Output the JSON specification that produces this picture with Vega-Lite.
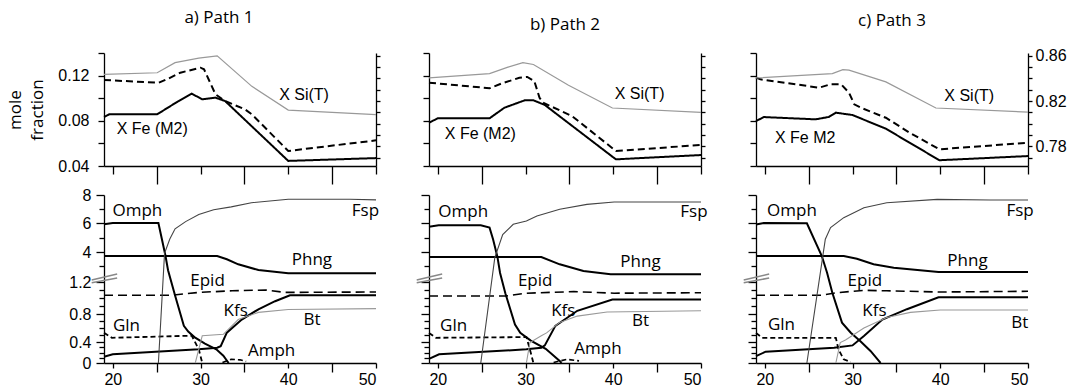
{
"$schema":"https://vega.github.io/schema/vega-lite/v6.json",
"padding":{"left":6,"top":9,"right":5,"bottom":0},
"datasets":{
"top":[
{"p":"a","s":"fe","x":19,"y":0.0834},{"p":"a","s":"fe","x":19.6,"y":0.0857},{"p":"a","s":"fe","x":25.05,"y":0.0857},{"p":"a","s":"fe","x":27.5,"y":0.0975},{"p":"a","s":"fe","x":29,"y":0.104},{"p":"a","s":"fe","x":30.2,"y":0.099},{"p":"a","s":"fe","x":31.7,"y":0.1005},{"p":"a","s":"fe","x":32.8,"y":0.0975},{"p":"a","s":"fe","x":40,"y":0.0445},{"p":"a","s":"fe","x":50,"y":0.047},
{"p":"a","s":"dash","x":19,"y":0.1161},{"p":"a","s":"dash","x":25.25,"y":0.1137},{"p":"a","s":"dash","x":26.4,"y":0.1176},{"p":"a","s":"dash","x":27.7,"y":0.1226},{"p":"a","s":"dash","x":30,"y":0.127},{"p":"a","s":"dash","x":30.4,"y":0.1256},{"p":"a","s":"dash","x":31.7,"y":0.1035},{"p":"a","s":"dash","x":32.8,"y":0.0975},{"p":"a","s":"dash","x":35.1,"y":0.09},{"p":"a","s":"dash","x":35.85,"y":0.0857},{"p":"a","s":"dash","x":40,"y":0.0533},{"p":"a","s":"dash","x":50,"y":0.0627},
{"p":"b","s":"fe","x":19,"y":0.0783},{"p":"b","s":"fe","x":20,"y":0.0822},{"p":"b","s":"fe","x":25.9,"y":0.0822},{"p":"b","s":"fe","x":27.6,"y":0.0916},{"p":"b","s":"fe","x":29.9,"y":0.0981},{"p":"b","s":"fe","x":30.9,"y":0.0981},{"p":"b","s":"fe","x":32.2,"y":0.094},{"p":"b","s":"fe","x":40.3,"y":0.0459},{"p":"b","s":"fe","x":50,"y":0.0497},
{"p":"b","s":"dash","x":19,"y":0.1137},{"p":"b","s":"dash","x":25.9,"y":0.1088},{"p":"b","s":"dash","x":27.2,"y":0.1128},{"p":"b","s":"dash","x":29.3,"y":0.1181},{"p":"b","s":"dash","x":30.2,"y":0.1188},{"p":"b","s":"dash","x":31,"y":0.1152},{"p":"b","s":"dash","x":31.6,"y":0.1004},{"p":"b","s":"dash","x":32,"y":0.096},{"p":"b","s":"dash","x":35.3,"y":0.0842},{"p":"b","s":"dash","x":40.3,"y":0.0533},{"p":"b","s":"dash","x":50,"y":0.0586},
{"p":"c","s":"fe","x":19,"y":0.0798},{"p":"c","s":"fe","x":19.9,"y":0.0833},{"p":"c","s":"fe","x":25.8,"y":0.0813},{"p":"c","s":"fe","x":27.3,"y":0.0834},{"p":"c","s":"fe","x":28.1,"y":0.0872},{"p":"c","s":"fe","x":30,"y":0.0851},{"p":"c","s":"fe","x":33.8,"y":0.073},{"p":"c","s":"fe","x":39.9,"y":0.0451},{"p":"c","s":"fe","x":50,"y":0.0488},
{"p":"c","s":"dash","x":19,"y":0.1182},{"p":"c","s":"dash","x":19.5,"y":0.1167},{"p":"c","s":"dash","x":26.2,"y":0.1093},{"p":"c","s":"dash","x":27.5,"y":0.1123},{"p":"c","s":"dash","x":28.7,"y":0.1123},{"p":"c","s":"dash","x":29.6,"y":0.1049},{"p":"c","s":"dash","x":30.2,"y":0.0946},{"p":"c","s":"dash","x":31.1,"y":0.0911},{"p":"c","s":"dash","x":33.8,"y":0.0827},{"p":"c","s":"dash","x":36.5,"y":0.0695},{"p":"c","s":"dash","x":39.9,"y":0.0548},{"p":"c","s":"dash","x":50,"y":0.0606}
],
"si":[
{"p":"a","x":19,"y":0.8436},{"p":"a","x":25.06,"y":0.845},{"p":"a","x":27.1,"y":0.854},{"p":"a","x":29.8,"y":0.858},{"p":"a","x":31.9,"y":0.86},{"p":"a","x":35.85,"y":0.833},{"p":"a","x":40,"y":0.812},{"p":"a","x":50,"y":0.808},
{"p":"b","x":19,"y":0.8404},{"p":"b","x":25.9,"y":0.8443},{"p":"b","x":28,"y":0.85},{"p":"b","x":29.7,"y":0.854},{"p":"b","x":30.9,"y":0.8523},{"p":"b","x":34.9,"y":0.834},{"p":"b","x":39.9,"y":0.8138},{"p":"b","x":50,"y":0.81},
{"p":"c","x":19,"y":0.8404},{"p":"c","x":27.7,"y":0.8443},{"p":"c","x":28.9,"y":0.8478},{"p":"c","x":29.6,"y":0.8473},{"p":"c","x":33.8,"y":0.8369},{"p":"c","x":39.5,"y":0.8138},{"p":"c","x":50,"y":0.8102}
],
"bot":[
{"p":"a","s":"Omph","x":19,"y":5.91},{"p":"a","s":"Omph","x":20,"y":6.0},{"p":"a","s":"Omph","x":25.2,"y":6.0},{"p":"a","s":"Omph","x":26.0,"y":3.75},{"p":"a","s":"Omph","x":26.3,"y":2.7},{"p":"a","s":"Omph","x":27.1,"y":1.03},{"p":"a","s":"Omph","x":28.1,"y":0.63},{"p":"a","s":"Omph","x":28.6,"y":0.55},{"p":"a","s":"Omph","x":29.3,"y":0.47},{"p":"a","s":"Omph","x":30.5,"y":0.37},{"p":"a","s":"Omph","x":31.8,"y":0.26},{"p":"a","s":"Omph","x":32.6,"y":0.14},{"p":"a","s":"Omph","x":33.2,"y":0.0},
{"p":"a","s":"Phng","x":19,"y":3.71},{"p":"a","s":"Phng","x":31.9,"y":3.71},{"p":"a","s":"Phng","x":33.0,"y":3.48},{"p":"a","s":"Phng","x":34.3,"y":3.12},{"p":"a","s":"Phng","x":36.6,"y":2.71},{"p":"a","s":"Phng","x":40,"y":2.48},{"p":"a","s":"Phng","x":50,"y":2.48},
{"p":"a","s":"Fsp","x":25.2,"y":0},{"p":"a","s":"Fsp","x":25.9,"y":3.9},{"p":"a","s":"Fsp","x":26.5,"y":4.9},{"p":"a","s":"Fsp","x":27.1,"y":5.6},{"p":"a","s":"Fsp","x":28.3,"y":6.1},{"p":"a","s":"Fsp","x":29.8,"y":6.6},{"p":"a","s":"Fsp","x":31.5,"y":6.95},{"p":"a","s":"Fsp","x":33.5,"y":7.15},{"p":"a","s":"Fsp","x":35.8,"y":7.45},{"p":"a","s":"Fsp","x":40,"y":7.7},{"p":"a","s":"Fsp","x":47,"y":7.7},{"p":"a","s":"Fsp","x":50,"y":7.65},
{"p":"a","s":"Epid","x":19,"y":1.034},{"p":"a","s":"Epid","x":26.6,"y":1.034},{"p":"a","s":"Epid","x":29.8,"y":1.07},{"p":"a","s":"Epid","x":33.6,"y":1.09},{"p":"a","s":"Epid","x":37.4,"y":1.1},{"p":"a","s":"Epid","x":39.6,"y":1.07},{"p":"a","s":"Epid","x":50,"y":1.075},
{"p":"a","s":"Kfs","x":19,"y":0.12},{"p":"a","s":"Kfs","x":20,"y":0.165},{"p":"a","s":"Kfs","x":29.8,"y":0.26},{"p":"a","s":"Kfs","x":31.9,"y":0.29},{"p":"a","s":"Kfs","x":32.3,"y":0.32},{"p":"a","s":"Kfs","x":33.0,"y":0.533},{"p":"a","s":"Kfs","x":34.7,"y":0.72},{"p":"a","s":"Kfs","x":36.6,"y":0.859},{"p":"a","s":"Kfs","x":38.5,"y":0.96},{"p":"a","s":"Kfs","x":40.2,"y":1.034},{"p":"a","s":"Kfs","x":50,"y":1.034},
{"p":"a","s":"Bt","x":29.4,"y":0},{"p":"a","s":"Bt","x":30.2,"y":0.49},{"p":"a","s":"Bt","x":32.6,"y":0.51},{"p":"a","s":"Bt","x":34.3,"y":0.72},{"p":"a","s":"Bt","x":36.6,"y":0.82},{"p":"a","s":"Bt","x":40,"y":0.857},{"p":"a","s":"Bt","x":50,"y":0.867},
{"p":"a","s":"Gln","x":19,"y":0.533},{"p":"a","s":"Gln","x":19.9,"y":0.46},{"p":"a","s":"Gln","x":29.0,"y":0.49},{"p":"a","s":"Gln","x":29.8,"y":0.26},{"p":"a","s":"Gln","x":30.2,"y":0.0},
{"p":"a","s":"Amph","x":32.5,"y":0.01},{"p":"a","s":"Amph","x":33.5,"y":0.07},{"p":"a","s":"Amph","x":34.5,"y":0.06},{"p":"a","s":"Amph","x":35.2,"y":0.03},
{"p":"b","s":"Omph","x":19,"y":5.74},{"p":"b","s":"Omph","x":20.1,"y":5.84},{"p":"b","s":"Omph","x":24.9,"y":5.84},{"p":"b","s":"Omph","x":25.9,"y":5.68},{"p":"b","s":"Omph","x":26.3,"y":4.88},{"p":"b","s":"Omph","x":26.8,"y":3.65},{"p":"b","s":"Omph","x":27.1,"y":2.5},{"p":"b","s":"Omph","x":27.7,"y":1.06},{"p":"b","s":"Omph","x":28.8,"y":0.65},{"p":"b","s":"Omph","x":29.4,"y":0.53},{"p":"b","s":"Omph","x":30.6,"y":0.42},{"p":"b","s":"Omph","x":32.3,"y":0.27},{"p":"b","s":"Omph","x":33.9,"y":0.04},{"p":"b","s":"Omph","x":34.1,"y":0},
{"p":"b","s":"Phng","x":19,"y":3.64},{"p":"b","s":"Phng","x":31.8,"y":3.64},{"p":"b","s":"Phng","x":33.9,"y":3.12},{"p":"b","s":"Phng","x":36.6,"y":2.64},{"p":"b","s":"Phng","x":39.7,"y":2.41},{"p":"b","s":"Phng","x":50,"y":2.41},
{"p":"b","s":"Fsp","x":24.9,"y":0},{"p":"b","s":"Fsp","x":26.5,"y":3.6},{"p":"b","s":"Fsp","x":27.4,"y":5.2},{"p":"b","s":"Fsp","x":28.6,"y":5.91},{"p":"b","s":"Fsp","x":30.1,"y":6.14},{"p":"b","s":"Fsp","x":31.3,"y":6.5},{"p":"b","s":"Fsp","x":33.9,"y":6.98},{"p":"b","s":"Fsp","x":37,"y":7.33},{"p":"b","s":"Fsp","x":40.1,"y":7.5},{"p":"b","s":"Fsp","x":50,"y":7.5},
{"p":"b","s":"Epid","x":19,"y":1.025},{"p":"b","s":"Epid","x":27.8,"y":1.025},{"p":"b","s":"Epid","x":30.1,"y":1.06},{"p":"b","s":"Epid","x":35.5,"y":1.08},{"p":"b","s":"Epid","x":40.1,"y":1.06},{"p":"b","s":"Epid","x":50,"y":1.066},
{"p":"b","s":"Kfs","x":19,"y":0.08},{"p":"b","s":"Kfs","x":20.15,"y":0.165},{"p":"b","s":"Kfs","x":30.1,"y":0.26},{"p":"b","s":"Kfs","x":31.8,"y":0.29},{"p":"b","s":"Kfs","x":32.2,"y":0.335},{"p":"b","s":"Kfs","x":33.4,"y":0.63},{"p":"b","s":"Kfs","x":35.9,"y":0.84},{"p":"b","s":"Kfs","x":39.9,"y":0.98},{"p":"b","s":"Kfs","x":50,"y":0.98},
{"p":"b","s":"Bt","x":30.1,"y":0},{"p":"b","s":"Bt","x":30.5,"y":0.39},{"p":"b","s":"Bt","x":31.8,"y":0.49},{"p":"b","s":"Bt","x":32.4,"y":0.53},{"p":"b","s":"Bt","x":33.9,"y":0.68},{"p":"b","s":"Bt","x":35.9,"y":0.77},{"p":"b","s":"Bt","x":39.3,"y":0.825},{"p":"b","s":"Bt","x":50,"y":0.84},
{"p":"b","s":"Gln","x":19,"y":0.53},{"p":"b","s":"Gln","x":19.8,"y":0.46},{"p":"b","s":"Gln","x":30.1,"y":0.47},{"p":"b","s":"Gln","x":30.5,"y":0.26},{"p":"b","s":"Gln","x":30.9,"y":0.0},
{"p":"b","s":"Amph","x":33.2,"y":0.01},{"p":"b","s":"Amph","x":34.7,"y":0.07},{"p":"b","s":"Amph","x":36.1,"y":0.04},
{"p":"c","s":"Omph","x":19,"y":5.9},{"p":"c","s":"Omph","x":19.9,"y":6.0},{"p":"c","s":"Omph","x":24.8,"y":5.98},{"p":"c","s":"Omph","x":26.5,"y":3.71},{"p":"c","s":"Omph","x":27.1,"y":2.52},{"p":"c","s":"Omph","x":27.7,"y":1.066},{"p":"c","s":"Omph","x":28.8,"y":0.676},{"p":"c","s":"Omph","x":29.8,"y":0.533},{"p":"c","s":"Omph","x":30.9,"y":0.41},{"p":"c","s":"Omph","x":32.05,"y":0.23},{"p":"c","s":"Omph","x":33.0,"y":0.04},{"p":"c","s":"Omph","x":33.2,"y":0},
{"p":"c","s":"Phng","x":19,"y":3.71},{"p":"c","s":"Phng","x":29.0,"y":3.71},{"p":"c","s":"Phng","x":30.5,"y":3.52},{"p":"c","s":"Phng","x":32.4,"y":3.12},{"p":"c","s":"Phng","x":34.7,"y":2.88},{"p":"c","s":"Phng","x":39.8,"y":2.57},{"p":"c","s":"Phng","x":50,"y":2.57},
{"p":"c","s":"Fsp","x":24.8,"y":0},{"p":"c","s":"Fsp","x":26.9,"y":4.88},{"p":"c","s":"Fsp","x":27.5,"y":5.68},{"p":"c","s":"Fsp","x":29.0,"y":6.38},{"p":"c","s":"Fsp","x":31.3,"y":7.09},{"p":"c","s":"Fsp","x":33.9,"y":7.45},{"p":"c","s":"Fsp","x":39.65,"y":7.69},{"p":"c","s":"Fsp","x":45.7,"y":7.64},{"p":"c","s":"Fsp","x":50,"y":7.64},
{"p":"c","s":"Epid","x":19,"y":1.034},{"p":"c","s":"Epid","x":26.5,"y":1.034},{"p":"c","s":"Epid","x":28.2,"y":1.066},{"p":"c","s":"Epid","x":31.3,"y":1.096},{"p":"c","s":"Epid","x":33.9,"y":1.09},{"p":"c","s":"Epid","x":40,"y":1.075},{"p":"c","s":"Epid","x":50,"y":1.084},
{"p":"c","s":"Kfs","x":19,"y":0.13},{"p":"c","s":"Kfs","x":20.1,"y":0.215},{"p":"c","s":"Kfs","x":27.9,"y":0.29},{"p":"c","s":"Kfs","x":30.0,"y":0.335},{"p":"c","s":"Kfs","x":31.3,"y":0.486},{"p":"c","s":"Kfs","x":33.4,"y":0.72},{"p":"c","s":"Kfs","x":36.2,"y":0.86},{"p":"c","s":"Kfs","x":39.8,"y":1.01},{"p":"c","s":"Kfs","x":50,"y":1.01},
{"p":"c","s":"Bt","x":28.1,"y":0},{"p":"c","s":"Bt","x":28.6,"y":0.39},{"p":"c","s":"Bt","x":29.2,"y":0.43},{"p":"c","s":"Bt","x":31.3,"y":0.6},{"p":"c","s":"Bt","x":33.9,"y":0.75},{"p":"c","s":"Bt","x":36.6,"y":0.82},{"p":"c","s":"Bt","x":40,"y":0.85},{"p":"c","s":"Bt","x":50,"y":0.85},
{"p":"c","s":"Gln","x":19,"y":0.53},{"p":"c","s":"Gln","x":19.7,"y":0.46},{"p":"c","s":"Gln","x":28.1,"y":0.46},{"p":"c","s":"Gln","x":28.4,"y":0.26},{"p":"c","s":"Gln","x":29.0,"y":0.07},{"p":"c","s":"Gln","x":29.8,"y":0.02}
],
"lab":[
{"p":"a","r":"t","t":"X Fe (M2)","x":24.5,"y":0.0727},{"p":"a","r":"t","t":"X Si(T)","x":41.8,"y":0.1028},
{"p":"b","r":"t","t":"X Fe (M2)","x":24.85,"y":0.068},{"p":"b","r":"t","t":"X Si(T)","x":43.0,"y":0.1035},
{"p":"c","r":"t","t":"X Fe M2","x":24.6,"y":0.065},{"p":"c","r":"t","t":"X Si(T)","x":43.3,"y":0.1018},
{"p":"a","r":"b","t":"Omph","x":22.8,"y":6.86},{"p":"a","r":"b","t":"Fsp","x":48.8,"y":6.86},{"p":"a","r":"b","t":"Phng","x":42.7,"y":3.43},{"p":"a","r":"b","t":"Epid","x":30.8,"y":1.6},{"p":"a","r":"b","t":"Kfs","x":34.0,"y":0.84},{"p":"a","r":"b","t":"Bt","x":42.7,"y":0.72},{"p":"a","r":"b","t":"Gln","x":21.56,"y":0.63},{"p":"a","r":"b","t":"Amph","x":38.1,"y":0.23},
{"p":"b","r":"b","t":"Omph","x":22.9,"y":6.79},{"p":"b","r":"b","t":"Fsp","x":49.2,"y":6.79},{"p":"b","r":"b","t":"Phng","x":43.1,"y":3.29},{"p":"b","r":"b","t":"Epid","x":31.1,"y":1.6},{"p":"b","r":"b","t":"Kfs","x":34.3,"y":0.84},{"p":"b","r":"b","t":"Bt","x":43.1,"y":0.7},{"p":"b","r":"b","t":"Gln","x":21.8,"y":0.63},{"p":"b","r":"b","t":"Amph","x":38.25,"y":0.26},
{"p":"c","r":"b","t":"Omph","x":23.1,"y":6.86},{"p":"c","r":"b","t":"Fsp","x":49.1,"y":6.86},{"p":"c","r":"b","t":"Phng","x":43.1,"y":3.36},{"p":"c","r":"b","t":"Epid","x":31.4,"y":1.6},{"p":"c","r":"b","t":"Kfs","x":32.5,"y":0.84},{"p":"c","r":"b","t":"Bt","x":49.05,"y":0.67},{"p":"c","r":"b","t":"Gln","x":21.9,"y":0.64}
],
"brk":[
{"x":17.6,"x2":20.5,"y":1.19,"y2":2.14},{"x":17.6,"x2":20.5,"y":2.0,"y2":2.43}
]
},
"spacing":26,
"hconcat":[
{"vconcat":[
{"width":272,"height":113,
"title":{"text":"a) Path 1","frame":"group","anchor":"middle","baseline":"bottom","offset":1,"dx":-21},
"layer":[
{"data":{"name":"top"},"transform":[{"filter":"datum.p == 'a'"}],
"mark":{"type":"line","color":"#000","strokeWidth":2},
"encoding":{
"x":{"field":"x","type":"quantitative","title":null,"scale":{"domain":[19,50],"nice":false,"zero":false},"axis":{"values":[20,25,30,35,40,45,50],"labels":false,"tickSize":{"condition":{"test":"datum.value % 10 == 5","value":18},"value":8}}},
"y":{"field":"y","type":"quantitative","scale":{"domain":[0.04,0.14],"nice":false,"zero":false},"axis":{"orient":"left","values":[0.04,0.06,0.08,0.1,0.12,0.14],"format":".2f","labelExpr":"round(datum.value*100) % 4 == 0 ? datum.label : ''","tickSize":6,"labelPadding":9,"title":["mole","fraction"],"titlePadding":11,"titleLineHeight":22}},
"strokeDash":{"field":"s","type":"nominal","legend":null,"scale":{"domain":["fe","dash"],"range":[[1,0],[7,4]]}}}},
{"data":{"name":"si"},"transform":[{"filter":"datum.p == 'a'"}],
"mark":{"type":"line","color":"#999","strokeWidth":1.2},
"encoding":{
"x":{"field":"x","type":"quantitative","title":null},
"y":{"field":"y","type":"quantitative","title":null,"scale":{"domain":[0.7625,0.8625],"nice":false,"zero":false},"axis":{"orient":"right","values":[0.77,0.78,0.79,0.8,0.81,0.82,0.83,0.84,0.85,0.86],"labels":false,"tickSize":4}}}},
{"data":{"name":"lab"},"transform":[{"filter":"datum.p == 'a' && datum.r == 't'"}],
"mark":{"type":"text","font":"Liberation Sans","fontSize":16,"color":"#000"},
"encoding":{
"x":{"field":"x","type":"quantitative","title":null},
"y":{"field":"y","type":"quantitative","title":null,"scale":{"domain":[0.04,0.14],"nice":false,"zero":false},"axis":null},
"text":{"field":"t"}}}
],
"resolve":{"scale":{"y":"independent"}}},
{"width":272,"height":168,
"layer":[
{"data":{"name":"bot"},"transform":[{"filter":"datum.p == 'a' && indexof(['Omph','Phng','Kfs'], datum.s) >= 0"}],
"mark":{"type":"line","color":"#000","strokeWidth":2},
"encoding":{
"x":{"field":"x","type":"quantitative","title":null,"scale":{"domain":[19,50],"nice":false,"zero":false},"axis":{"values":[20,25,30,35,40,45,50],"format":"d","labelExpr":"datum.value % 10 == 0 ? datum.label : ''","tickSize":{"condition":{"test":"datum.value % 10 == 5","value":9},"value":5},"labelPadding":3}},
"y":{"field":"y","type":"quantitative","scale":{"domain":[0,0.4,0.8,1.2,2,4,6,8],"range":[168,147,119,87,85,57,28,0],"nice":false,"zero":false},"axis":{"orient":"left","tickCount":100,"values":[0,0.1,0.2,0.3,0.4,0.5,0.6,0.7,0.8,0.9,1,1.1,1.2,3,4,5,6,7,8],"format":".1~f","labelExpr":"indexof([0,0.4,0.8,1.2,4,6,8], datum.value) >= 0 ? datum.label : ''","tickSize":{"condition":{"test":"indexof([0,0.4,0.8,1.2,4,6,8], datum.value) >= 0","value":8},"value":5},"labelPadding":5,"title":"abundance [mol]","titlePadding":12}},
"detail":{"field":"s"}}},
{"data":{"name":"bot"},"transform":[{"filter":"datum.p == 'a' && datum.s == 'Epid'"}],
"mark":{"type":"line","color":"#000","strokeWidth":1.6,"strokeDash":[9,5]},
"encoding":{"x":{"field":"x","type":"quantitative","title":null},"y":{"field":"y","type":"quantitative","title":null}}},
{"data":{"name":"bot"},"transform":[{"filter":"datum.p == 'a' && datum.s == 'Gln'"}],
"mark":{"type":"line","color":"#000","strokeWidth":1.8,"strokeDash":[5,3]},
"encoding":{"x":{"field":"x","type":"quantitative","title":null},"y":{"field":"y","type":"quantitative","title":null}}},
{"data":{"name":"bot"},"transform":[{"filter":"datum.p == 'a' && datum.s == 'Amph'"}],
"mark":{"type":"line","color":"#000","strokeWidth":1.6,"strokeDash":[5,3]},
"encoding":{"x":{"field":"x","type":"quantitative","title":null},"y":{"field":"y","type":"quantitative","title":null}}},
{"data":{"name":"bot"},"transform":[{"filter":"datum.p == 'a' && (datum.s == 'Fsp' || datum.s == 'Bt')"}],
"mark":{"type":"line","strokeWidth":1.1},
"encoding":{
"x":{"field":"x","type":"quantitative","title":null},
"y":{"field":"y","type":"quantitative","title":null},
"color":{"field":"s","type":"nominal","legend":null,"scale":{"domain":["Fsp","Bt"],"range":["#444","#999"]}}}},
{"data":{"name":"lab"},"transform":[{"filter":"datum.p == 'a' && datum.r == 'b'"}],
"mark":{"type":"text","font":"Open Sans","fontSize":17,"color":"#000"},
"encoding":{
"x":{"field":"x","type":"quantitative","title":null},
"y":{"field":"y","type":"quantitative","title":null},
"text":{"field":"t"}}},
{"data":{"name":"brk"},
"mark":{"type":"rule","color":"#888","strokeWidth":1.5},
"encoding":{
"x":{"field":"x","type":"quantitative","title":null},"x2":{"field":"x2"},
"y":{"field":"y","type":"quantitative","title":null},"y2":{"field":"y2"}}}
]}
],"spacing":2},
{"vconcat":[
{"width":272,"height":113,
"title":{"text":"b) Path 2","frame":"group","anchor":"middle","baseline":"bottom","offset":1},
"layer":[
{"data":{"name":"top"},"transform":[{"filter":"datum.p == 'b'"}],
"mark":{"type":"line","color":"#000","strokeWidth":2},
"encoding":{
"x":{"field":"x","type":"quantitative","title":null,"scale":{"domain":[19,50],"nice":false,"zero":false},"axis":{"values":[20,25,30,35,40,45,50],"labels":false,"tickSize":{"condition":{"test":"datum.value % 10 == 5","value":18},"value":8}}},
"y":{"field":"y","type":"quantitative","title":null,"scale":{"domain":[0.04,0.14],"nice":false,"zero":false},"axis":{"orient":"left","values":[0.04,0.06,0.08,0.1,0.12,0.14],"labels":false,"tickSize":6}},
"strokeDash":{"field":"s","type":"nominal","legend":null,"scale":{"domain":["fe","dash"],"range":[[1,0],[7,4]]}}}},
{"data":{"name":"si"},"transform":[{"filter":"datum.p == 'b'"}],
"mark":{"type":"line","color":"#999","strokeWidth":1.2},
"encoding":{
"x":{"field":"x","type":"quantitative","title":null},
"y":{"field":"y","type":"quantitative","title":null,"scale":{"domain":[0.7625,0.8625],"nice":false,"zero":false},"axis":{"orient":"right","values":[0.77,0.78,0.79,0.8,0.81,0.82,0.83,0.84,0.85,0.86],"labels":false,"tickSize":4}}}},
{"data":{"name":"lab"},"transform":[{"filter":"datum.p == 'b' && datum.r == 't'"}],
"mark":{"type":"text","font":"Liberation Sans","fontSize":16,"color":"#000"},
"encoding":{
"x":{"field":"x","type":"quantitative","title":null},
"y":{"field":"y","type":"quantitative","title":null,"scale":{"domain":[0.04,0.14],"nice":false,"zero":false},"axis":null},
"text":{"field":"t"}}}
],
"resolve":{"scale":{"y":"independent"}}},
{"width":272,"height":168,
"layer":[
{"data":{"name":"bot"},"transform":[{"filter":"datum.p == 'b' && indexof(['Omph','Phng','Kfs'], datum.s) >= 0"}],
"mark":{"type":"line","color":"#000","strokeWidth":2},
"encoding":{
"x":{"field":"x","type":"quantitative","title":null,"scale":{"domain":[19,50],"nice":false,"zero":false},"axis":{"values":[20,25,30,35,40,45,50],"format":"d","labelExpr":"datum.value % 10 == 0 ? datum.label : ''","tickSize":{"condition":{"test":"datum.value % 10 == 5","value":9},"value":5},"labelPadding":3}},
"y":{"field":"y","type":"quantitative","title":null,"scale":{"domain":[0,0.4,0.8,1.2,2,4,6,8],"range":[168,147,119,87,85,57,28,0],"nice":false,"zero":false},"axis":{"orient":"left","tickCount":100,"values":[0,0.1,0.2,0.3,0.4,0.5,0.6,0.7,0.8,0.9,1,1.1,1.2,3,4,5,6,7,8],"format":".1~f","labelExpr":"datum.value == 8 ? datum.label : ''","labelOpacity":0,"tickSize":{"condition":{"test":"indexof([0,0.4,0.8,1.2,4,6,8], datum.value) >= 0","value":8},"value":5},"labelPadding":5}},
"detail":{"field":"s"}}},
{"data":{"name":"bot"},"transform":[{"filter":"datum.p == 'b' && datum.s == 'Epid'"}],
"mark":{"type":"line","color":"#000","strokeWidth":1.6,"strokeDash":[9,5]},
"encoding":{"x":{"field":"x","type":"quantitative","title":null},"y":{"field":"y","type":"quantitative","title":null}}},
{"data":{"name":"bot"},"transform":[{"filter":"datum.p == 'b' && datum.s == 'Gln'"}],
"mark":{"type":"line","color":"#000","strokeWidth":1.8,"strokeDash":[5,3]},
"encoding":{"x":{"field":"x","type":"quantitative","title":null},"y":{"field":"y","type":"quantitative","title":null}}},
{"data":{"name":"bot"},"transform":[{"filter":"datum.p == 'b' && datum.s == 'Amph'"}],
"mark":{"type":"line","color":"#000","strokeWidth":1.6,"strokeDash":[5,3]},
"encoding":{"x":{"field":"x","type":"quantitative","title":null},"y":{"field":"y","type":"quantitative","title":null}}},
{"data":{"name":"bot"},"transform":[{"filter":"datum.p == 'b' && (datum.s == 'Fsp' || datum.s == 'Bt')"}],
"mark":{"type":"line","strokeWidth":1.1},
"encoding":{
"x":{"field":"x","type":"quantitative","title":null},
"y":{"field":"y","type":"quantitative","title":null},
"color":{"field":"s","type":"nominal","legend":null,"scale":{"domain":["Fsp","Bt"],"range":["#444","#999"]}}}},
{"data":{"name":"lab"},"transform":[{"filter":"datum.p == 'b' && datum.r == 'b'"}],
"mark":{"type":"text","font":"Open Sans","fontSize":17,"color":"#000"},
"encoding":{
"x":{"field":"x","type":"quantitative","title":null},
"y":{"field":"y","type":"quantitative","title":null},
"text":{"field":"t"}}},
{"data":{"name":"brk"},
"mark":{"type":"rule","color":"#888","strokeWidth":1.5},
"encoding":{
"x":{"field":"x","type":"quantitative","title":null},"x2":{"field":"x2"},
"y":{"field":"y","type":"quantitative","title":null},"y2":{"field":"y2"}}}
]}
],"spacing":2},
{"vconcat":[
{"width":272,"height":113,
"title":{"text":"c) Path 3","frame":"group","anchor":"middle","baseline":"bottom","offset":1},
"layer":[
{"data":{"name":"top"},"transform":[{"filter":"datum.p == 'c'"}],
"mark":{"type":"line","color":"#000","strokeWidth":2},
"encoding":{
"x":{"field":"x","type":"quantitative","title":null,"scale":{"domain":[19,50],"nice":false,"zero":false},"axis":{"values":[20,25,30,35,40,45,50],"labels":false,"tickSize":{"condition":{"test":"datum.value % 10 == 5","value":18},"value":8}}},
"y":{"field":"y","type":"quantitative","title":null,"scale":{"domain":[0.04,0.14],"nice":false,"zero":false},"axis":{"orient":"left","values":[0.04,0.06,0.08,0.1,0.12,0.14],"labels":false,"tickSize":6}},
"strokeDash":{"field":"s","type":"nominal","legend":null,"scale":{"domain":["fe","dash"],"range":[[1,0],[7,4]]}}}},
{"data":{"name":"si"},"transform":[{"filter":"datum.p == 'c'"}],
"mark":{"type":"line","color":"#999","strokeWidth":1.2},
"encoding":{
"x":{"field":"x","type":"quantitative","title":null},
"y":{"field":"y","type":"quantitative","title":null,"scale":{"domain":[0.7625,0.8625],"nice":false,"zero":false},"axis":{"orient":"right","values":[0.77,0.78,0.79,0.8,0.81,0.82,0.83,0.84,0.85,0.86],"format":".2f","labelExpr":"round(datum.value*100) % 4 == 2 ? datum.label : ''","tickSize":4,"labelPadding":3}}}},
{"data":{"name":"lab"},"transform":[{"filter":"datum.p == 'c' && datum.r == 't'"}],
"mark":{"type":"text","font":"Liberation Sans","fontSize":16,"color":"#000"},
"encoding":{
"x":{"field":"x","type":"quantitative","title":null},
"y":{"field":"y","type":"quantitative","title":null,"scale":{"domain":[0.04,0.14],"nice":false,"zero":false},"axis":null},
"text":{"field":"t"}}}
],
"resolve":{"scale":{"y":"independent"}}},
{"width":272,"height":168,
"layer":[
{"data":{"name":"bot"},"transform":[{"filter":"datum.p == 'c' && indexof(['Omph','Phng','Kfs'], datum.s) >= 0"}],
"mark":{"type":"line","color":"#000","strokeWidth":2},
"encoding":{
"x":{"field":"x","type":"quantitative","title":null,"scale":{"domain":[19,50],"nice":false,"zero":false},"axis":{"values":[20,25,30,35,40,45,50],"format":"d","labelExpr":"datum.value % 10 == 0 ? datum.label : ''","tickSize":{"condition":{"test":"datum.value % 10 == 5","value":9},"value":5},"labelPadding":3}},
"y":{"field":"y","type":"quantitative","title":null,"scale":{"domain":[0,0.4,0.8,1.2,2,4,6,8],"range":[168,147,119,87,85,57,28,0],"nice":false,"zero":false},"axis":{"orient":"left","tickCount":100,"values":[0,0.1,0.2,0.3,0.4,0.5,0.6,0.7,0.8,0.9,1,1.1,1.2,3,4,5,6,7,8],"format":".1~f","labelExpr":"datum.value == 8 ? datum.label : ''","labelOpacity":0,"tickSize":{"condition":{"test":"indexof([0,0.4,0.8,1.2,4,6,8], datum.value) >= 0","value":8},"value":5},"labelPadding":5}},
"detail":{"field":"s"}}},
{"data":{"name":"bot"},"transform":[{"filter":"datum.p == 'c' && datum.s == 'Epid'"}],
"mark":{"type":"line","color":"#000","strokeWidth":1.6,"strokeDash":[9,5]},
"encoding":{"x":{"field":"x","type":"quantitative","title":null},"y":{"field":"y","type":"quantitative","title":null}}},
{"data":{"name":"bot"},"transform":[{"filter":"datum.p == 'c' && datum.s == 'Gln'"}],
"mark":{"type":"line","color":"#000","strokeWidth":1.8,"strokeDash":[5,3]},
"encoding":{"x":{"field":"x","type":"quantitative","title":null},"y":{"field":"y","type":"quantitative","title":null}}},
{"data":{"name":"bot"},"transform":[{"filter":"datum.p == 'c' && (datum.s == 'Fsp' || datum.s == 'Bt')"}],
"mark":{"type":"line","strokeWidth":1.1},
"encoding":{
"x":{"field":"x","type":"quantitative","title":null},
"y":{"field":"y","type":"quantitative","title":null},
"color":{"field":"s","type":"nominal","legend":null,"scale":{"domain":["Fsp","Bt"],"range":["#444","#999"]}}}},
{"data":{"name":"lab"},"transform":[{"filter":"datum.p == 'c' && datum.r == 'b'"}],
"mark":{"type":"text","font":"Open Sans","fontSize":17,"color":"#000"},
"encoding":{
"x":{"field":"x","type":"quantitative","title":null},
"y":{"field":"y","type":"quantitative","title":null},
"text":{"field":"t"}}},
{"data":{"name":"brk"},
"mark":{"type":"rule","color":"#888","strokeWidth":1.5},
"encoding":{
"x":{"field":"x","type":"quantitative","title":null},"x2":{"field":"x2"},
"y":{"field":"y","type":"quantitative","title":null},"y2":{"field":"y2"}}}
]}
],"spacing":2}
],
"config":{
"view":{"stroke":null},
"axis":{"grid":false,"labelOverlap":false,"tickCount":100,"domainColor":"#000","tickColor":"#000","domainWidth":1.3,"tickWidth":1.3,"labelFont":"Liberation Sans","labelFontSize":16,"labelColor":"#000","titleFont":"Open Sans","titleFontSize":17,"titleFontWeight":"normal","titleColor":"#000","minExtent":0},
"title":{"font":"Open Sans","fontSize":17,"fontWeight":"normal","color":"#000"}
}
}
